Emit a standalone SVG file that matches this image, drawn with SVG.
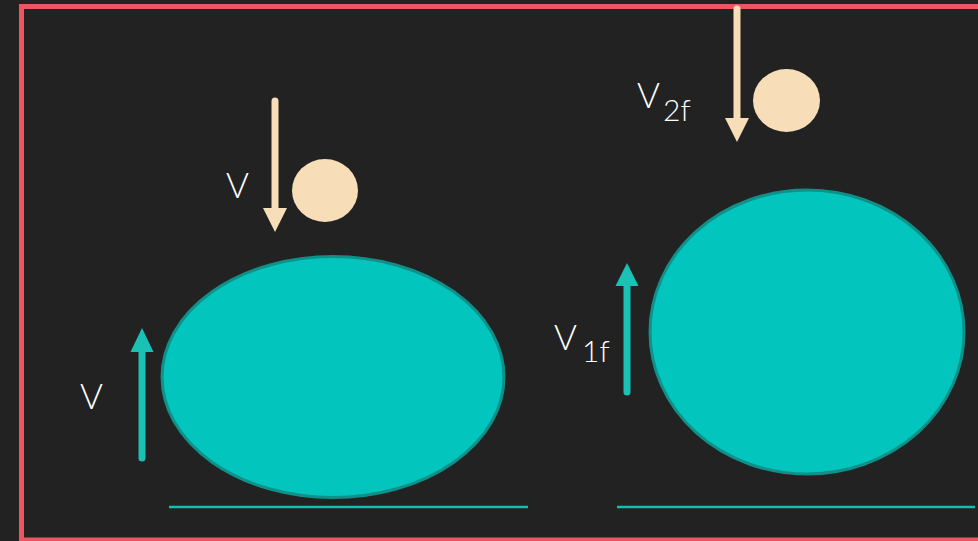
<svg xmlns="http://www.w3.org/2000/svg" width="978" height="541" viewBox="0 0 978 541">
<style>
.big{fill:#02C6BE;stroke:#0F9189;stroke-width:3}
.ball{fill:#F8DEB8}
.ground{stroke:#17BDB2;stroke-width:2.5}
.down{stroke:#F8DEB8;stroke-width:7;stroke-linecap:round;fill:none}
.up{stroke:#1AC2B6;stroke-width:7;stroke-linecap:round;fill:none}
.lbl{font-family:Lato,"Liberation Sans",sans-serif;font-weight:300;font-size:35px;fill:#FFFFFF}
.sub{font-size:30px}
</style>
<rect x="0" y="0" width="978" height="541" fill="#222222"/>
<rect x="21.5" y="6.5" width="980" height="533.5" fill="none" stroke="#EF5461" stroke-width="5"/>
<g id="ground-left"><line class="ground" x1="169" y1="507" x2="528" y2="507"/></g>
<g id="ground-right"><line class="ground" x1="617" y1="507" x2="975" y2="507"/></g>
<g id="big-left"><ellipse class="big" cx="333" cy="377" rx="171" ry="120.5"/></g>
<g id="big-right"><ellipse class="big" cx="807" cy="332" rx="157" ry="142"/></g>
<g id="ball-left"><ellipse class="ball" cx="325" cy="190.5" rx="33" ry="31.5"/></g>
<g id="ball-right"><ellipse class="ball" cx="786.5" cy="100.5" rx="33.5" ry="31.5"/></g>
<g id="connectors">
<line class="down" x1="275" y1="101" x2="275" y2="212"/>
<polygon points="263,208 287,208 275,232" fill="#F8DEB8"/>
<line class="down" x1="737" y1="9" x2="737" y2="122"/>
<polygon points="725,118 749,118 737,142" fill="#F8DEB8"/>
<line class="up" x1="142" y1="348" x2="142" y2="458"/>
<polygon points="130.5,352 153.5,352 142,328" fill="#1AC2B6"/>
<line class="up" x1="627" y1="282" x2="627" y2="392"/>
<polygon points="615.5,286 638.5,286 627,263" fill="#1AC2B6"/>
</g>
<g id="labels">
<text class="lbl" x="226" y="198">V</text>
<text class="lbl" x="80" y="409">V</text>
<text class="lbl" x="554" y="350">V<tspan class="sub" x="582" y="362">1f</tspan></text>
<text class="lbl" x="637" y="108">V<tspan class="sub" x="663" y="121">2f</tspan></text>
</g>
</svg>
